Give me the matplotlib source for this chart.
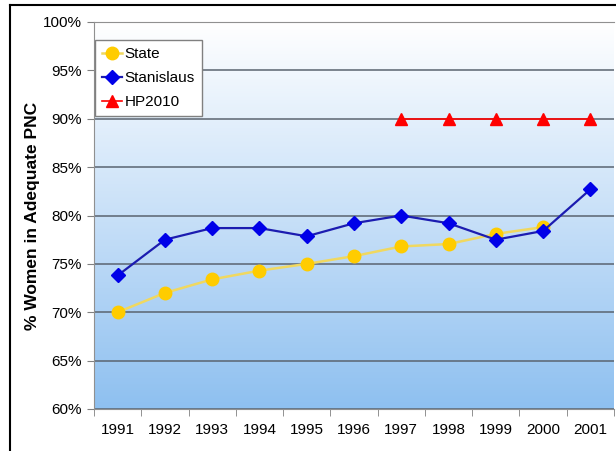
import matplotlib
matplotlib.use("Agg")
import matplotlib.pyplot as plt
import numpy as np
from matplotlib.colors import LinearSegmentedColormap
from matplotlib.lines import Line2D

years = ['1991', '1992', '1993', '1994', '1995', '1996', '1997', '1998', '1999', '2000', '2001']
state = [70.0, 72.0, 73.4, 74.3, 75.0, 75.8, 76.8, 77.05, 78.1, 78.8, np.nan]
stanislaus = [73.8, 77.5, 78.7, 78.7, 77.85, 79.2, 80.0, 79.2, 77.5, 78.4, 82.7]
hp2010 = [np.nan, np.nan, np.nan, np.nan, np.nan, np.nan, 90, 90, 90, 90, 90]
yticks = [60, 65, 70, 75, 80, 85, 90, 95, 100]

plt.rcParams['font.family'] = ['Liberation Sans', 'DejaVu Sans']

fig = plt.figure(figsize=(6.16, 4.51), dpi=100)
ax = fig.add_axes([94/616, 1-409/451, 520/616, (409-22)/451])

# gradient background of plot area (white at top, light blue at bottom)
cmap = LinearSegmentedColormap.from_list('bg', ['#ffffff', '#c8e0f8', '#8ec0f0'])
grad = np.linspace(0, 1, 256).reshape(-1, 1)
ax.imshow(grad, aspect='auto', cmap=cmap, extent=[0, 1, 0, 1], origin='upper',
          transform=ax.transAxes, zorder=0)

x = np.arange(len(years))
ax.plot(x, state, color='#f0d860', lw=1.8, marker='o', ms=9,
        mfc='#ffcc00', mec='#ffcc00', label='State', zorder=3)
ax.plot(x, stanislaus, color='#1c1cb0', lw=1.6, marker='D', ms=7.5,
        mfc='#0000e8', mec='#0000e8', label='Stanislaus', zorder=4)
ax.plot(x, hp2010, color='#ff0000', lw=1.2, marker='^', ms=9,
        mfc='#ff0000', mec='#ff0000', label='HP2010', zorder=4)

ax.set_xlim(-0.5, len(years) - 0.5)
ax.set_ylim(60, 100)
ax.set_yticks(yticks)
ax.set_yticklabels([f'{v}%' for v in yticks], fontsize=11)
ax.set_xticks(x)
ax.set_xticklabels(years, fontsize=11)
ax.set_xticks(np.arange(-0.5, len(years), 1), minor=True)
ax.tick_params(axis='x', which='major', length=0, pad=10)
ax.tick_params(axis='x', which='minor', length=5, color='#808080', direction='out')
ax.tick_params(axis='y', length=5, color='#808080', pad=4)
ax.grid(axis='y', color='#5a6470', lw=1.1, zorder=1)
ax.set_axisbelow(True)
for s in ax.spines.values():
    s.set_color('#909090')
ax.spines['right'].set_visible(False)

ax.set_ylabel('% Women in Adequate PNC', fontsize=12.5, fontweight='bold')
ax.yaxis.set_label_coords(-0.104, 0.5)

leg = ax.legend(loc='upper left', bbox_to_anchor=(0.002, 0.953), fontsize=11,
                frameon=True, fancybox=False, edgecolor='#808080',
                handlelength=1.3, handletextpad=0.2, borderpad=0.45,
                labelspacing=0.65, borderaxespad=0, framealpha=1)
leg.get_frame().set_linewidth(1.0)

# black frame of the original screenshot
fig.add_artist(Line2D([10/616, 10/616], [0, 1-5/451], color='black', lw=1.5,
                      transform=fig.transFigure))
fig.add_artist(Line2D([10/616, 1], [1-5/451, 1-5/451], color='black', lw=1.5,
                      transform=fig.transFigure))

fig.savefig('out.png', dpi=100)
